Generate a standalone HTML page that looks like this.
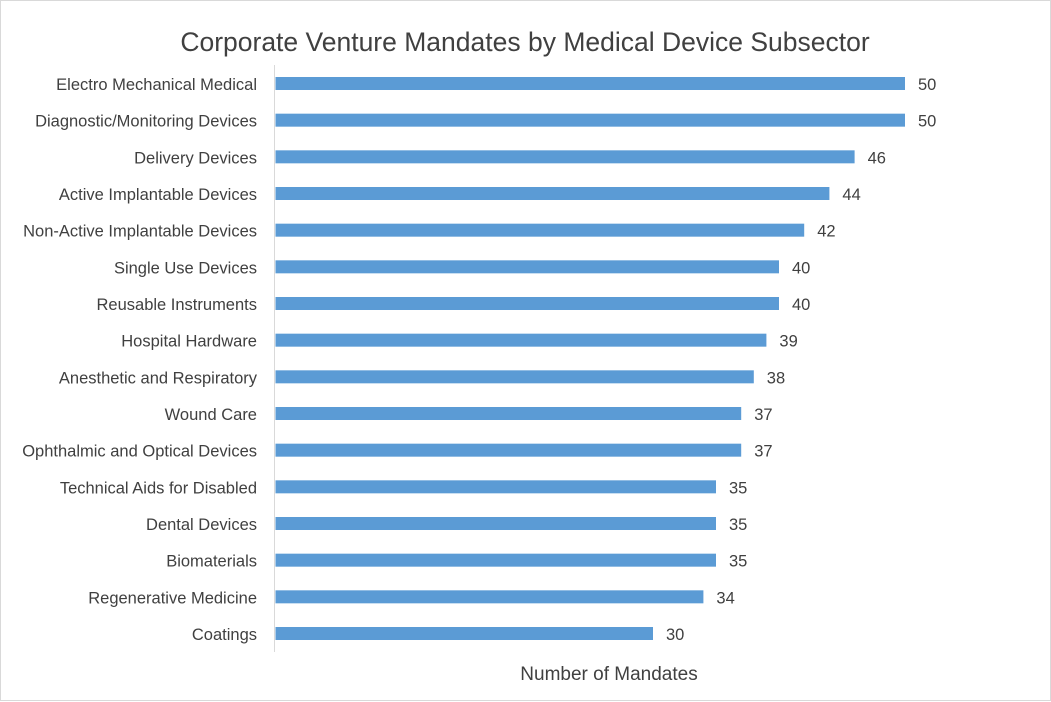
<!DOCTYPE html>
<html><head><meta charset="utf-8"><style>
body{margin:0;background:#fff}
svg{display:block}
text{font-family:"Liberation Sans",sans-serif;fill:#404040}
</style></head><body>
<svg width="1051" height="702" viewBox="0 0 1051 702">
<rect x="0.5" y="0.5" width="1050" height="700" fill="#fff" stroke="#d9d9d9"/>
<text x="525" y="51" font-size="26.5" text-anchor="middle" fill="#595959">Corporate Venture Mandates by Medical Device Subsector</text>
<line x1="274.5" y1="65" x2="274.5" y2="652" stroke="#d9d9d9" stroke-width="1"/>
<g font-size="16.5">
<rect x="275.5" y="77" width="629.5" height="13" fill="#5b9bd5"/><text x="257" y="90" text-anchor="end">Electro Mechanical Medical</text><text x="918" y="90">50</text>
<rect x="275.5" y="113.67" width="629.5" height="13" fill="#5b9bd5"/><text x="257" y="126.67" text-anchor="end">Diagnostic/Monitoring Devices</text><text x="918" y="126.67">50</text>
<rect x="275.5" y="150.33" width="579.1" height="13" fill="#5b9bd5"/><text x="257" y="163.33" text-anchor="end">Delivery Devices</text><text x="867.6" y="163.33">46</text>
<rect x="275.5" y="187" width="553.9" height="13" fill="#5b9bd5"/><text x="257" y="200" text-anchor="end">Active Implantable Devices</text><text x="842.4" y="200">44</text>
<rect x="275.5" y="223.67" width="528.7" height="13" fill="#5b9bd5"/><text x="257" y="236.67" text-anchor="end">Non-Active Implantable Devices</text><text x="817.2" y="236.67">42</text>
<rect x="275.5" y="260.33" width="503.5" height="13" fill="#5b9bd5"/><text x="257" y="273.33" text-anchor="end">Single Use Devices</text><text x="792" y="273.33">40</text>
<rect x="275.5" y="297" width="503.5" height="13" fill="#5b9bd5"/><text x="257" y="310" text-anchor="end">Reusable Instruments</text><text x="792" y="310">40</text>
<rect x="275.5" y="333.67" width="490.9" height="13" fill="#5b9bd5"/><text x="257" y="346.67" text-anchor="end">Hospital Hardware</text><text x="779.4" y="346.67">39</text>
<rect x="275.5" y="370.33" width="478.3" height="13" fill="#5b9bd5"/><text x="257" y="383.33" text-anchor="end">Anesthetic and Respiratory</text><text x="766.8" y="383.33">38</text>
<rect x="275.5" y="407" width="465.7" height="13" fill="#5b9bd5"/><text x="257" y="420" text-anchor="end">Wound Care</text><text x="754.2" y="420">37</text>
<rect x="275.5" y="443.67" width="465.7" height="13" fill="#5b9bd5"/><text x="257" y="456.67" text-anchor="end">Ophthalmic and Optical Devices</text><text x="754.2" y="456.67">37</text>
<rect x="275.5" y="480.33" width="440.5" height="13" fill="#5b9bd5"/><text x="257" y="493.33" text-anchor="end">Technical Aids for Disabled</text><text x="729" y="493.33">35</text>
<rect x="275.5" y="517" width="440.5" height="13" fill="#5b9bd5"/><text x="257" y="530" text-anchor="end">Dental Devices</text><text x="729" y="530">35</text>
<rect x="275.5" y="553.67" width="440.5" height="13" fill="#5b9bd5"/><text x="257" y="566.67" text-anchor="end">Biomaterials</text><text x="729" y="566.67">35</text>
<rect x="275.5" y="590.33" width="427.9" height="13" fill="#5b9bd5"/><text x="257" y="603.33" text-anchor="end">Regenerative Medicine</text><text x="716.4" y="603.33">34</text>
<rect x="275.5" y="627" width="377.5" height="13" fill="#5b9bd5"/><text x="257" y="640" text-anchor="end">Coatings</text><text x="666" y="640">30</text>
</g>
<text x="609" y="680" font-size="19" text-anchor="middle">Number of Mandates</text>
</svg>
</body></html>
